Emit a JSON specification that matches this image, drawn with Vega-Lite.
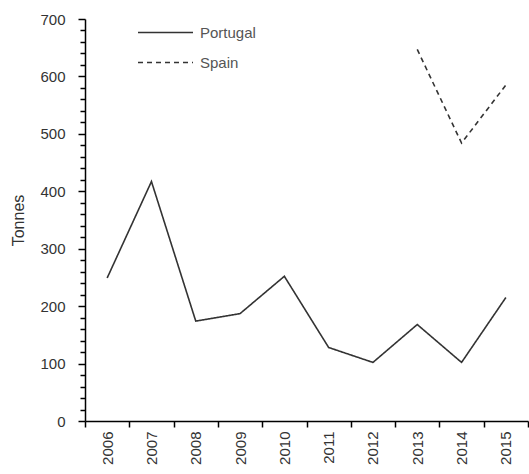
{
  "$schema": "https://vega.github.io/schema/vega-lite/v6.json",
  "autosize": "none",
  "width": 443,
  "height": 402,
  "padding": {"left": 85, "top": 19, "right": 1, "bottom": 53},
  "background": "white",
  "config": {"view": {"stroke": null}},
  "data": {
    "values": [
      {"year": "2006", "country": "Portugal", "tonnes": 249},
      {"year": "2007", "country": "Portugal", "tonnes": 417},
      {"year": "2008", "country": "Portugal", "tonnes": 174},
      {"year": "2009", "country": "Portugal", "tonnes": 187},
      {"year": "2010", "country": "Portugal", "tonnes": 252},
      {"year": "2011", "country": "Portugal", "tonnes": 128},
      {"year": "2012", "country": "Portugal", "tonnes": 102},
      {"year": "2013", "country": "Portugal", "tonnes": 168},
      {"year": "2014", "country": "Portugal", "tonnes": 102},
      {"year": "2015", "country": "Portugal", "tonnes": 215},
      {"year": "2013", "country": "Spain", "tonnes": 647},
      {"year": "2014", "country": "Spain", "tonnes": 484},
      {"year": "2015", "country": "Spain", "tonnes": 585}
    ]
  },
  "mark": {"type": "line", "strokeWidth": 1.6, "color": "#333333"},
  "encoding": {
    "x": {
      "field": "year",
      "type": "ordinal",
      "title": null,
      "scale": {"paddingInner": 0, "paddingOuter": 0},
      "axis": {
        "labelAngle": -90,
        "labelAlign": "right",
        "labelBaseline": "middle",
        "tickBand": "extent",
        "domainColor": "#000000",
        "domainWidth": 1.5,
        "tickColor": "#000000",
        "tickWidth": 1.5,
        "tickSize": 6,
        "labelPadding": 4,
        "labelFont": "Liberation Sans",
        "labelFontSize": 15,
        "labelColor": "#333333"
      }
    },
    "y": {
      "field": "tonnes",
      "type": "quantitative",
      "title": "Tonnes",
      "scale": {"domain": [0, 700], "nice": false},
      "axis": {
        "values": [0, 20, 40, 60, 80, 100, 120, 140, 160, 180, 200, 220, 240, 260, 280, 300, 320, 340, 360, 380, 400, 420, 440, 460, 480, 500, 520, 540, 560, 580, 600, 620, 640, 660, 680, 700],
        "labelExpr": "datum.value % 100 === 0 ? datum.value : ''",
        "tickSize": {"condition": {"test": "datum.value % 100 === 0", "value": 7}, "value": 5},
        "grid": false,
        "domainColor": "#000000",
        "domainWidth": 1.5,
        "tickColor": "#000000",
        "tickWidth": 1.5,
        "labelPadding": 13,
        "labelFont": "Liberation Sans",
        "labelFontSize": 15,
        "labelColor": "#333333",
        "titleFont": "Liberation Sans",
        "titleFontSize": 16,
        "titleFontWeight": "normal",
        "titleColor": "#333333",
        "titlePadding": 13
      }
    },
    "strokeDash": {
      "field": "country",
      "type": "nominal",
      "scale": {"domain": ["Portugal", "Spain"], "range": [[1, 0], [5, 4]]},
      "legend": {
        "title": null,
        "orient": "none",
        "legendX": 73,
        "legendY": 6,
        "symbolType": "M-5,0H5",
        "symbolSize": 121,
        "symbolStrokeColor": "#333333",
        "symbolStrokeWidth": 1.5,
        "rowPadding": 14,
        "labelFont": "Liberation Sans",
        "labelFontSize": 15,
        "labelColor": "#555555",
        "labelOffset": 27
      }
    }
  }
}
